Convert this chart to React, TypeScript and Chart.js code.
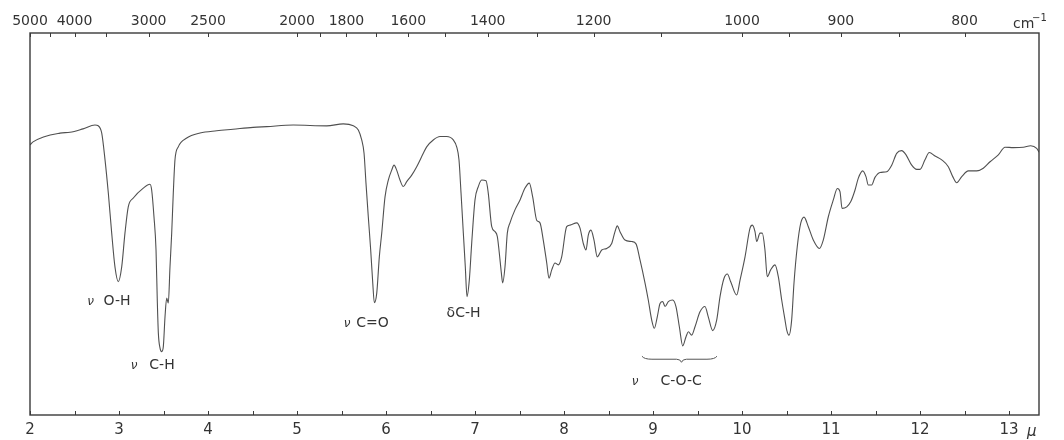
import React, { useEffect, useRef } from 'react';
import { Chart, registerables } from 'chart.js';

Chart.register(...registerables);

// Wavelength (micron) and % transmittance
const wavelength = [
  2.0, 2.034, 2.337, 2.449, 2.596, 2.730, 2.767, 2.806, 2.843, 2.880,
  2.918, 2.955, 2.992, 3.030, 3.067, 3.104, 3.161, 3.273, 3.348, 3.367,
  3.393, 3.416, 3.430, 3.442, 3.461, 3.480, 3.498, 3.517, 3.536, 3.554,
  3.573, 3.592, 3.610, 3.629, 3.666, 3.761, 3.910, 4.098, 4.281, 4.506,
  4.660, 4.958, 5.334, 5.520, 5.633, 5.689, 5.727, 5.753, 5.775, 5.801,
  5.828, 5.851, 5.869, 5.896, 5.925, 5.952, 5.989, 6.026, 6.064, 6.090,
  6.120, 6.157, 6.194, 6.233, 6.289, 6.345, 6.419, 6.457, 6.531, 6.607,
  6.682, 6.756, 6.794, 6.820, 6.843, 6.869, 6.891, 6.910, 6.936, 6.963,
  7.000, 7.037, 7.075, 7.124, 7.149, 7.188, 7.225, 7.251, 7.273, 7.296,
  7.311, 7.337, 7.363, 7.393, 7.449, 7.506, 7.562, 7.610, 7.648, 7.693,
  7.730, 7.767, 7.806, 7.831, 7.862, 7.899, 7.936, 7.974, 8.030, 8.067,
  8.143, 8.180, 8.217, 8.247, 8.273, 8.303, 8.337, 8.374, 8.424, 8.480,
  8.536, 8.573, 8.599, 8.629, 8.685, 8.761, 8.809, 8.854, 8.910, 8.947,
  8.985, 9.015, 9.048, 9.079, 9.109, 9.135, 9.172, 9.221, 9.258, 9.296,
  9.334, 9.371, 9.397, 9.435, 9.472, 9.528, 9.584, 9.621, 9.671, 9.716,
  9.753, 9.798, 9.835, 9.873, 9.940, 9.978, 10.034, 10.090, 10.116, 10.146,
  10.165, 10.202, 10.228, 10.258, 10.284, 10.322, 10.371, 10.408, 10.446, 10.483,
  10.502, 10.528, 10.558, 10.584, 10.621, 10.660, 10.697, 10.745, 10.801, 10.869,
  10.913, 10.970, 11.026, 11.071, 11.101, 11.124, 11.177, 11.221, 11.270, 11.307,
  11.356, 11.393, 11.419, 11.457, 11.494, 11.551, 11.626, 11.682, 11.738, 11.794,
  11.843, 11.907, 11.963, 12.000, 12.056, 12.104, 12.169, 12.244, 12.318, 12.368,
  12.413, 12.469, 12.543, 12.638, 12.711, 12.787, 12.880, 12.955, 13.048, 13.161,
  13.244, 13.311, 13.337,
];

const transmittance = [
  70.7, 71.5, 73.8, 74.0, 74.9, 75.9, 75.7, 73.8, 66.8, 58.1,
  47.6, 38.7, 34.9, 38.7, 47.6, 54.5, 56.8, 59.4, 60.4, 58.9,
  51.9, 43.2, 30.1, 21.5, 17.5, 16.6, 17.9, 25.7, 30.6, 29.3,
  38.8, 47.6, 58.1, 66.8, 70.2, 72.5, 73.8, 74.4, 74.8, 75.3,
  75.5, 75.9, 75.7, 76.2, 75.7, 74.6, 72.0, 68.6, 60.7, 51.9,
  43.2, 34.6, 29.4, 31.9, 41.4, 47.6, 57.1, 61.5, 64.1, 65.4,
  64.1, 61.5, 59.8, 61.1, 62.8, 65.0, 68.5, 70.2, 72.0, 72.9,
  72.9, 72.0, 70.2, 66.8, 58.1, 47.6, 38.8, 31.0, 35.3, 45.0,
  56.3, 59.8, 61.5, 61.3, 58.1, 49.3, 48.0, 46.7, 42.4, 37.2,
  34.6, 38.8, 47.6, 50.3, 53.7, 56.3, 59.4, 60.7, 57.1, 51.0,
  50.3, 45.8, 39.8, 35.8, 38.0, 39.8, 39.3, 41.4, 49.3, 49.7,
  50.3, 48.9, 44.9, 43.2, 47.1, 48.4, 45.8, 41.4, 43.2, 43.6,
  44.9, 48.0, 49.5, 48.0, 45.8, 45.4, 44.8, 40.6, 34.6, 30.1,
  24.9, 22.7, 25.7, 29.2, 29.7, 28.4, 29.7, 30.1, 28.4, 23.1,
  18.1, 20.5, 21.8, 20.9, 23.1, 27.0, 28.4, 25.7, 22.1, 24.9,
  31.0, 35.8, 36.9, 34.9, 31.4, 35.3, 41.4, 48.9, 49.7, 48.0,
  45.4, 47.6, 47.6, 43.2, 36.2, 38.0, 39.3, 36.2, 30.1, 24.9,
  22.3, 20.9, 24.9, 34.5, 44.1, 50.2, 51.8, 49.3, 45.8, 43.6,
  45.8, 51.9, 56.3, 59.3, 58.5, 54.1, 54.5, 55.8, 58.9, 62.0,
  63.9, 62.4, 60.2, 60.2, 62.2, 63.5, 63.7, 65.4, 68.5, 69.2,
  68.1, 65.4, 64.3, 64.3, 66.8, 68.7, 67.8, 66.8, 65.0, 62.4,
  60.8, 62.4, 63.9, 63.9, 64.6, 66.3, 68.1, 70.1, 70.0, 70.1,
  70.5, 69.8, 68.8,
];

const axisRange = [2, 13.337];

const micronTicks = [2, 2.5, 3, 3.5, 4, 4.5, 5, 5.5, 6, 6.5, 7, 7.5, 8, 8.5, 9, 9.5, 10, 10.5, 11, 11.5, 12, 12.5, 13];
const micronLabels = [2, 3, 4, 5, 6, 7, 8, 9, 10, 11, 12, 13];

const wavenumberTicks = [5000, 4500, 4000, 3500, 3000, 2500, 2000, 1900, 1800, 1700, 1600, 1500, 1400, 1300, 1200, 1100, 1000, 950, 900, 850, 800];
const wavenumberLabels = [5000, 4000, 3000, 2500, 2000, 1800, 1600, 1400, 1200, 1000, 900, 800];

// band assignments: symbol position, text position (micron), transmittance level
const bandLabels = [
  { symbol: 'ν', symbolAt: 2.682, text: 'O-H', textAt: 2.978, level: 29.8 },
  { symbol: 'ν', symbolAt: 3.169, text: 'C-H', textAt: 3.483, level: 13.1 },
  { symbol: 'ν', symbolAt: 5.562, text: 'C=O', textAt: 5.848, level: 24.1 },
  { symbol: '', symbolAt: 0, text: 'δC-H', textAt: 6.871, level: 26.7 },
  { symbol: 'ν', symbolAt: 8.798, text: 'C-O-C', textAt: 9.316, level: 8.9 },
];
const braceSpan = [8.876, 9.32, 9.719];
const braceLevels = [15.4, 14.6, 13.8];

const INK = '#3a3a3a';
const LABEL_FONT = '"DejaVu Sans", "Liberation Sans", sans-serif';

const overlay = {
  id: 'overlay',
  afterDraw(chart: any) {
    const { ctx, chartArea: a, scales } = chart;
    const sx = scales.x;
    const sy = scales.y;
    ctx.save();
    // frame
    ctx.strokeStyle = INK;
    ctx.lineWidth = 1.4;
    ctx.strokeRect(a.left, a.top, a.right - a.left, a.bottom - a.top);
    // inward tick marks
    ctx.lineWidth = 1;
    ctx.beginPath();
    micronTicks.forEach((v) => {
      const px = Math.round(sx.getPixelForValue(v)) + 0.5;
      ctx.moveTo(px, a.bottom);
      ctx.lineTo(px, a.bottom - 4);
    });
    wavenumberTicks.forEach((n) => {
      const px = Math.round(scales.x2.getPixelForValue(10000 / n)) + 0.5;
      ctx.moveTo(px, a.top);
      ctx.lineTo(px, a.top + 4);
    });
    ctx.stroke();

    // unit labels
    ctx.fillStyle = '#333';
    ctx.textBaseline = 'alphabetic';
    ctx.textAlign = 'left';
    ctx.font = `14px ${LABEL_FONT}`;
    ctx.fillText('cm', a.right - 26, 28);
    ctx.font = `10px ${LABEL_FONT}`;
    ctx.fillText('−1', a.right - 7, 21);
    ctx.font = `italic 15px ${LABEL_FONT}`;
    ctx.fillText('μ', a.right - 12, 436);

    // band annotations
    ctx.textBaseline = 'middle';
    ctx.textAlign = 'center';
    bandLabels.forEach((b) => {
      const y = sy.getPixelForValue(b.level);
      if (b.symbol) {
        ctx.font = `italic 12px ${LABEL_FONT}`;
        ctx.fillText(b.symbol, sx.getPixelForValue(b.symbolAt), y + 1);
      }
      ctx.font = `14px ${LABEL_FONT}`;
      ctx.fillText(b.text, sx.getPixelForValue(b.textAt), y);
    });

    // brace under the C-O-C region
    const x1 = sx.getPixelForValue(braceSpan[0]);
    const xc = sx.getPixelForValue(braceSpan[1]);
    const x2 = sx.getPixelForValue(braceSpan[2]);
    const yEnd = sy.getPixelForValue(braceLevels[0]);
    const yMid = sy.getPixelForValue(braceLevels[1]);
    const yTip = sy.getPixelForValue(braceLevels[2]);
    ctx.strokeStyle = '#555';
    ctx.lineWidth = 1;
    ctx.beginPath();
    ctx.moveTo(x1, yEnd);
    ctx.quadraticCurveTo(x1 + 2, yMid, x1 + 10, yMid);
    ctx.lineTo(xc - 5, yMid);
    ctx.quadraticCurveTo(xc - 1, yMid, xc, yTip);
    ctx.quadraticCurveTo(xc + 1, yMid, xc + 5, yMid);
    ctx.lineTo(x2 - 10, yMid);
    ctx.quadraticCurveTo(x2 - 2, yMid, x2, yEnd);
    ctx.stroke();
    ctx.restore();
  },
};

export default function App() {
  const canvasRef = useRef<HTMLCanvasElement | null>(null);

  useEffect(() => {
    if (!canvasRef.current) return;
    const points = wavelength.map((w, i) => ({ x: w, y: transmittance[i] }));
    const tickFont = { family: LABEL_FONT, size: 15 };
    const chart = new Chart(canvasRef.current, {
      type: 'line',
      data: {
        datasets: [
          {
            data: points,
            borderColor: '#505050',
            borderWidth: 1.1,
            pointRadius: 0,
            fill: false,
            cubicInterpolationMode: 'monotone',
          },
        ],
      },
      options: {
        animation: false,
        responsive: false,
        events: [],
        layout: { padding: { left: 30, right: 25, top: 0, bottom: 0 } },
        plugins: { legend: { display: false }, tooltip: { enabled: false } },
        scales: {
          x: {
            type: 'linear',
            position: 'bottom',
            min: axisRange[0],
            max: axisRange[1],
            grid: { display: false, drawTicks: false },
            border: { display: false },
            afterBuildTicks: (s: any) => {
              s.ticks = micronTicks.map((v) => ({ value: v }));
            },
            afterFit: (s: any) => {
              s.height = 25;
            },
            ticks: {
              autoSkip: false,
              maxRotation: 0,
              minRotation: 0,
              padding: 6,
              color: '#333',
              font: tickFont,
              callback: (v: any) => (micronLabels.includes(Number(v)) ? String(v) : ''),
            },
          },
          x2: {
            type: 'linear',
            position: 'top',
            min: axisRange[0],
            max: axisRange[1],
            grid: { display: false, drawTicks: false },
            border: { display: false },
            afterBuildTicks: (s: any) => {
              s.ticks = wavenumberTicks.map((n) => ({ value: 10000 / n }));
            },
            afterFit: (s: any) => {
              s.height = 33;
            },
            ticks: {
              autoSkip: false,
              maxRotation: 0,
              minRotation: 0,
              padding: 3,
              color: '#333',
              font: { family: LABEL_FONT, size: 14 },
              callback: (v: any) => {
                const n = Math.round(10000 / Number(v));
                return wavenumberLabels.includes(n) ? String(n) : '';
              },
            },
          },
          y: { display: false, min: 0, max: 100 },
        },
      },
      plugins: [overlay],
    });
    return () => chart.destroy();
  }, []);

  return (
    <div style={{ position: 'absolute', left: 0, top: 0, width: 1064, height: 440, background: '#fff' }}>
      <canvas ref={canvasRef} width={1064} height={440} style={{ display: 'block', width: 1064, height: 440 }} />
    </div>
  );
}
